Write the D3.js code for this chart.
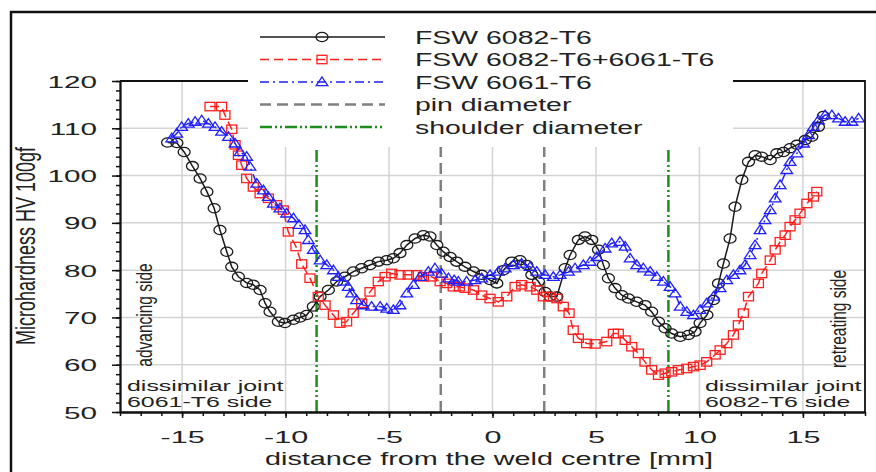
<!DOCTYPE html>
<html>
<head>
	<meta charset='utf-8'>
	<title>Microhardness profile across the weld</title>
	<script src="https://d3js.org/d3.v7.min.js"></script>
	<style>
		body { margin: 0; background: #fff; }
		text { font-family: "Liberation Sans", Arial, sans-serif; fill: #222; }
	</style>
</head>
<body>
<script>
	// distance from weld centre [mm], microhardness HV 100gf
	var fsw6082 = [[-15.7,107.0],[-15.25,106.9],[-14.9,105.0],[-14.5,102.0],[-14.13,99.4],[-13.8,96.6],[-13.45,93.1],[-13.17,88.5],[-12.84,83.9],[-12.6,80.7],[-12.28,78.6],[-11.88,77.3],[-11.56,76.9],[-11.23,75.8],[-10.99,73.0],[-10.75,71.2],[-10.35,69.1],[-10.03,68.8],[-9.62,69.5],[-9.3,70.0],[-8.98,70.5],[-8.66,72.3],[-8.33,74.4],[-7.93,75.8],[-7.53,77.6],[-7.13,78.6],[-6.72,79.7],[-6.32,80.4],[-5.92,81.1],[-5.52,81.8],[-5.11,82.1],[-4.79,82.5],[-4.47,83.6],[-4.14,85.3],[-3.74,86.7],[-3.34,87.4],[-3.02,87.1],[-2.69,85.3],[-2.38,83.9],[-2.05,82.8],[-1.73,81.8],[-1.33,80.7],[-0.92,79.7],[-0.52,79.0],[-0.12,77.9],[0.21,77.2],[0.53,80.0],[0.93,81.8],[1.33,82.1],[1.66,81.1],[1.9,79.0],[2.22,77.6],[2.54,75.4],[2.78,74.4],[3.11,74.4],[3.51,80.4],[3.75,83.2],[4.15,86.4],[4.47,87.1],[4.8,86.4],[5.12,84.3],[5.36,81.1],[5.6,78.3],[5.92,76.2],[6.25,74.7],[6.57,74.0],[6.97,73.3],[7.37,72.6],[7.69,71.2],[8.02,69.1],[8.34,67.7],[8.66,66.6],[9.07,65.9],[9.47,66.3],[9.79,67.0],[10.03,68.8],[10.36,70.5],[10.68,73.7],[10.92,77.2],[11.16,81.4],[11.48,86.7],[11.72,93.4],[12.05,99.1],[12.37,102.9],[12.69,104.3],[13.01,104.0],[13.42,103.3],[13.74,104.7],[14.06,105.0],[14.38,105.8],[14.71,106.5],[15.11,107.5],[15.43,108.2],[15.75,110.3],[15.99,112.6]];

	var fswDissimilar = [[-13.65,114.6],[-13.09,114.6],[-12.93,112.8],[-12.6,109.8],[-12.44,106.5],[-12.28,104.3],[-12.12,102.2],[-11.88,99.4],[-11.56,97.6],[-11.23,96.2],[-10.83,95.2],[-10.43,93.8],[-10.11,92.7],[-9.87,88.1],[-9.5,85.0],[-9.22,81.3],[-8.82,78.3],[-8.42,74.4],[-8.09,72.6],[-7.69,70.5],[-7.37,68.8],[-7.05,69.1],[-6.73,70.9],[-6.32,73.0],[-5.92,75.4],[-5.52,77.6],[-5.19,78.6],[-4.87,79.3],[-4.47,79.0],[-4.07,79.0],[-3.66,79.0],[-3.34,78.6],[-2.94,78.6],[-2.53,77.6],[-2.21,77.2],[-1.9,76.5],[-1.6,76.5],[-1.33,76.2],[-0.92,75.8],[-0.52,74.7],[-0.12,74.0],[0.28,73.3],[0.69,74.4],[1.09,76.5],[1.41,76.9],[1.82,76.5],[2.14,75.8],[2.46,74.4],[2.78,74.4],[3.11,74.0],[3.42,72.3],[3.7,70.9],[3.9,67.3],[4.15,65.6],[4.55,64.5],[4.96,64.4],[5.52,64.9],[5.84,66.6],[6.08,66.6],[6.41,65.2],[6.73,63.8],[7.05,62.4],[7.37,60.6],[7.69,58.9],[8.02,57.8],[8.34,58.2],[8.66,58.5],[8.98,58.9],[9.39,59.2],[9.71,59.6],[10.03,59.9],[10.35,60.6],[10.76,62.1],[11.0,63.1],[11.32,64.5],[11.64,66.3],[11.88,68.4],[12.12,70.9],[12.37,74.4],[12.85,77.2],[13.01,79.3],[13.42,82.1],[13.66,84.3],[13.9,86.0],[14.14,87.4],[14.38,89.2],[14.62,90.6],[14.86,92.0],[15.19,94.1],[15.51,95.5],[15.67,96.6]];

	var fsw6061 = [[-15.5,107.9],[-15.26,108.9],[-15.02,110.3],[-14.7,111.0],[-14.37,111.4],[-14.05,111.7],[-13.73,111.0],[-13.41,110.3],[-13.09,109.3],[-12.76,108.2],[-12.44,106.8],[-12.2,105.0],[-11.88,104.0],[-11.72,101.9],[-11.39,98.3],[-11.07,96.9],[-10.83,95.5],[-10.59,94.1],[-10.27,93.1],[-9.95,92.0],[-9.62,91.0],[-9.35,89.6],[-9.06,88.5],[-8.9,86.4],[-8.66,84.3],[-8.33,82.1],[-8.01,81.1],[-7.69,80.0],[-7.45,78.6],[-7.21,77.6],[-6.97,76.5],[-6.81,75.1],[-6.57,73.7],[-6.25,72.6],[-5.84,72.3],[-5.43,72.3],[-5.11,71.9],[-4.79,71.6],[-4.47,72.6],[-4.14,75.1],[-3.82,76.9],[-3.5,78.6],[-3.1,79.7],[-2.78,80.4],[-2.46,79.3],[-2.13,78.3],[-1.85,77.9],[-1.65,77.6],[-1.25,77.6],[-0.84,77.9],[-0.52,78.3],[-0.12,79.0],[0.28,79.7],[0.61,80.4],[1.01,81.1],[1.41,81.4],[1.82,80.7],[2.14,79.7],[2.54,79.0],[2.94,78.6],[3.27,79.0],[3.67,79.7],[3.99,80.4],[4.39,81.1],[4.72,81.8],[5.04,82.8],[5.44,84.6],[5.76,85.7],[6.16,86.0],[6.41,85.0],[6.65,82.5],[6.97,81.1],[7.29,80.4],[7.62,79.7],[7.94,78.6],[8.26,77.6],[8.58,76.5],[8.82,75.1],[9.07,72.3],[9.39,71.2],[9.71,70.5],[10.03,71.6],[10.35,73.0],[10.68,74.4],[11.0,76.2],[11.32,77.9],[11.64,79.0],[11.96,80.0],[12.2,81.1],[12.45,83.2],[12.69,85.3],[12.93,88.5],[13.17,90.6],[13.42,92.7],[13.66,95.2],[13.9,98.0],[14.22,101.2],[14.38,102.9],[14.71,104.7],[15.03,106.8],[15.27,108.6],[15.51,110.3],[15.75,111.7],[16.07,112.8],[16.4,112.8],[16.72,112.1],[17.04,111.4],[17.37,111.4],[17.69,112.1]];

	var pinDiameter = [-2.5, 2.5];
	var shoulderDiameter = [-8.5, 8.5];

	var xTicks = [-15, -10, -5, 0, 5, 10, 15];
	var yTicks = [50, 60, 70, 80, 90, 100, 110, 120];
	var legendNames = ["FSW 6082-T6", "FSW 6082-T6+6061-T6", "FSW 6061-T6", "pin diameter", "shoulder diameter"];

	var width = 876, height = 472;

	var svg = d3.select("body").append("svg")
		.attr("width", width)
		.attr("height", height);

	var x = d3.scaleLinear().domain([-18, 18]).range([120, 865]);
	var y = d3.scaleLinear().domain([50, 120]).range([412, 81]);

	// series styles
	var styles = [
		{ data: fsw6082, color: "#1a1a1a", dash: null, shape: "circle" },
		{ data: fswDissimilar, color: "#ff1f1f", dash: "9,5", shape: "square" },
		{ data: fsw6061, color: "#1f1fff", dash: "9,4,2,4", shape: "triangle" },
		{ color: "#808080", dash: "11,6", width: 2.5 },
		{ color: "#1e8c1e", dash: "12,3,2,3,2,3", width: 2.5 }
	];

	function marker(g, shape, color, px, py) {
		if (shape == "circle") {
			g.append("ellipse").attr("cx", px).attr("cy", py).attr("rx", 6).attr("ry", 4.6)
				.attr("fill", "none").attr("stroke", color).attr("stroke-width", 1.3);
		} else if (shape == "square") {
			g.append("rect").attr("x", px - 5).attr("y", py - 4.2).attr("width", 10).attr("height", 8.4)
				.attr("fill", "none").attr("stroke", color).attr("stroke-width", 1.3);
		} else {
			g.append("path").attr("d", "M" + px + "," + (py - 5) + "L" + (px + 5.8) + "," + (py + 3.6) + "L" + (px - 5.8) + "," + (py + 3.6) + "Z")
				.attr("fill", "none").attr("stroke", color).attr("stroke-width", 1.3);
		}
	}

	// stretched text (the figure is widened horizontally)
	function label(str, px, py, size, sx, anchor, rotate) {
		return svg.append("text")
			.text(str)
			.attr("font-size", size)
			.attr("text-anchor", anchor || "start")
			.attr("transform", "translate(" + px + "," + py + ") scale(" + sx + ",1)" + (rotate ? " rotate(-90)" : ""));
	}

	// grid
	var grid = svg.append("g").attr("stroke", "#d4d4d4").attr("stroke-width", 1.5);
	grid.selectAll(".vgrid").data(xTicks).enter().append("line")
		.attr("x1", function(d) { return x(d); })
		.attr("x2", function(d) { return x(d); })
		.attr("y1", y(50)).attr("y2", y(120));
	grid.selectAll(".hgrid").data(yTicks).enter().append("line")
		.attr("x1", x(-18)).attr("x2", x(18))
		.attr("y1", function(d) { return y(d); })
		.attr("y2", function(d) { return y(d); });

	// pin and shoulder diameter
	[pinDiameter, shoulderDiameter].forEach(function(vals, k) {
		var st = styles[k + 3];
		svg.selectAll(".ref" + k).data(vals).enter().append("line")
			.attr("x1", function(d) { return x(d); })
			.attr("x2", function(d) { return x(d); })
			.attr("y1", y(50)).attr("y2", y(120))
			.attr("stroke", st.color)
			.attr("stroke-width", st.width)
			.attr("stroke-dasharray", st.dash);
	});

	// series
	var line = d3.line()
		.x(function(d) { return x(d[0]); })
		.y(function(d) { return y(d[1]); });

	styles.slice(0, 3).forEach(function(st) {
		svg.append("path")
			.datum(st.data)
			.attr("d", line)
			.attr("fill", "none")
			.attr("stroke", st.color)
			.attr("stroke-width", 1.5)
			.attr("stroke-dasharray", st.dash);
		var g = svg.append("g");
		st.data.forEach(function(d) {
			marker(g, st.shape, st.color, x(d[0]), y(d[1]));
		});
	});

	// axes
	var yMinor = d3.axisLeft(y).tickValues(d3.range(50, 121, 2)).tickSize(4).tickSizeOuter(0).tickFormat("");
	var yMajor = d3.axisLeft(y).tickValues(yTicks).tickSize(8).tickSizeOuter(0).tickFormat(function(d) { return String(d); });
	var xMinor = d3.axisBottom(x).tickValues(d3.range(-18, 19, 1)).tickSize(4).tickSizeOuter(0).tickFormat("");
	var xMajor = d3.axisBottom(x).tickValues(xTicks).tickSize(6).tickSizeOuter(0).tickFormat(function(d) { return String(d); });

	var axes = [
		svg.append("g").attr("transform", "translate(120,0)").call(yMinor),
		svg.append("g").attr("transform", "translate(120,0)").call(yMajor),
		svg.append("g").attr("transform", "translate(0,412)").call(xMinor),
		svg.append("g").attr("transform", "translate(0,412)").call(xMajor)
	];
	axes.forEach(function(a) {
		a.selectAll("line").attr("stroke", "#111").attr("stroke-width", 1.5);
		a.select(".domain").attr("stroke", "#111").attr("stroke-width", 1.8);
		a.selectAll("text").attr("font-size", 16.5).attr("fill", "#222")
			.style("font-family", "'Liberation Sans', Arial, sans-serif");
	});
	axes[1].selectAll("text").attr("x", -23 / 1.8).attr("dy", "0.37em").attr("transform", "scale(1.8,1)");
	axes[3].selectAll("text").attr("y", 31).attr("dy", 0).attr("transform", "scale(1.85,1)");

	// plot border top and right
	svg.append("path")
		.attr("d", "M" + x(-18) + "," + y(120) + "H" + x(18) + "V" + y(50))
		.attr("fill", "none").attr("stroke", "#111").attr("stroke-width", 1.8);

	// legend
	var legendY = [37, 59.5, 82, 104.5, 127];
	svg.append("rect").attr("x", 248).attr("y", 16).attr("width", 485).attr("height", 131).attr("fill", "#fff");
	var lg = svg.append("g");
	legendNames.forEach(function(name, i) {
		var st = styles[i];
		lg.append("line")
			.attr("x1", 260).attr("x2", 385)
			.attr("y1", legendY[i]).attr("y2", legendY[i])
			.attr("stroke", st.color)
			.attr("stroke-width", st.width || 1.5)
			.attr("stroke-dasharray", st.dash);
		if (st.shape) marker(lg, st.shape, st.color, 322, legendY[i]);
		label(name, 415, legendY[i] + 6.5, 18, 1.58);
	});

	// outer frame
	svg.append("path").attr("d", "M11,472V12H876")
		.attr("fill", "none").attr("stroke", "#111").attr("stroke-width", 2.5);

	// titles and notes
	label("distance from the weld centre [mm]", 489, 465, 18, 1.6, "middle");
	label("Microhardness HV 100gf", 35, 246, 18, 1.5, "middle", true);
	label("advancing side", 152, 315, 15.5, 1.4, "middle", true);
	label("retreating side", 846, 319, 15.5, 1.4, "middle", true);
	label("dissimilar joint", 127, 391, 14.5, 1.72);
	label("6061-T6 side", 127, 407, 14.5, 1.72);
	label("dissimilar joint", 705, 391, 14.5, 1.72);
	label("6082-T6 side", 705, 407, 14.5, 1.72);
</script>
</body>
</html>
